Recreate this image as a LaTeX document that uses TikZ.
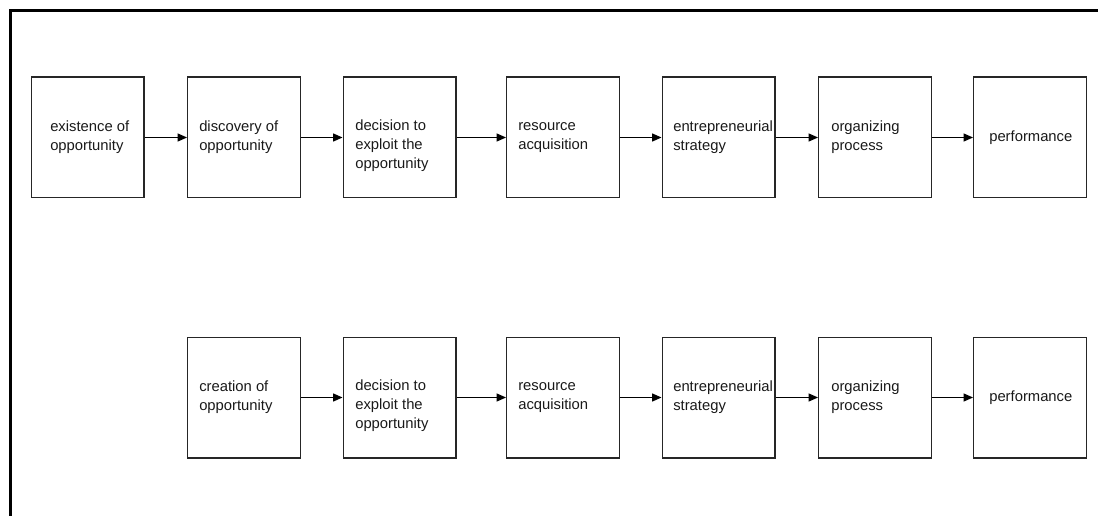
\documentclass[tikz,border=0pt]{standalone}
\usepackage{fontspec}
\setmainfont{Liberation Sans}
\usetikzlibrary{arrows.meta}
\begin{document}
\begin{tikzpicture}[x=0.75pt,y=-0.75pt,
  stepbox/.style={draw=black!85, line width=1pt, minimum width=84.5pt, minimum height=90.5pt, inner sep=0pt},
  lbl/.style={anchor=west, inner sep=0pt, align=left, text=black!90,
    font=\fontsize{11.1pt}{14.25pt}\selectfont},
  flow/.style={-{Triangle[length=7pt,width=6pt]}, line width=0.75pt, black},
  frameline/.style={line width=2.25pt, black}]
\useasboundingbox (0,0) rectangle (1098,516);
\clip (0,0) rectangle (1098,516);
% outer frame (left and top edges)
\draw[frameline] (10.5,530) -- (10.5,11) -- (1110,11);

% top row
\node[stepbox] (t1) at (87.5,137.5) {};
\node[stepbox] (t2) at (244,137.5) {};
\node[stepbox] (t3) at (399.5,137.5) {};
\node[stepbox] (t4) at (563,137.5) {};
\node[stepbox] (t5) at (718.5,137.5) {};
\node[stepbox] (t6) at (875,137.5) {};
\node[stepbox] (t7) at (1030,137.5) {};

\node[lbl] (lt1) at (50,137.5) {existence of\\opportunity};
\node[lbl] (lt2) at (199,137.5) {discovery of\\opportunity};
\node[lbl] (lt3) at (355,146) {decision to\\exploit the\\opportunity};
\node[lbl] (lt4) at (518,137.5) {resource\\acquisition};
\node[lbl] (lt5) at (673,137.5) {entrepreneurial\\strategy};
\node[lbl] (lt6) at (831,137.5) {organizing\\process};
\node[lbl] (lt7) at (989,137.5) {performance};

\draw[flow] (t1) -- (t2);
\draw[flow] (t2) -- (t3);
\draw[flow] (t3) -- (t4);
\draw[flow] (t4) -- (t5);
\draw[flow] (t5) -- (t6);
\draw[flow] (t6) -- (t7);

% bottom row
\node[stepbox] (b2) at (244,397.5) {};
\node[stepbox] (b3) at (399.5,397.5) {};
\node[stepbox] (b4) at (563,397.5) {};
\node[stepbox] (b5) at (718.5,397.5) {};
\node[stepbox] (b6) at (875,397.5) {};
\node[stepbox] (b7) at (1030,397.5) {};

\node[lbl] (lb2) at (199,397.5) {creation of\\opportunity};
\node[lbl] (lb3) at (355,406) {decision to\\exploit the\\opportunity};
\node[lbl] (lb4) at (518,397.5) {resource\\acquisition};
\node[lbl] (lb5) at (673,397.5) {entrepreneurial\\strategy};
\node[lbl] (lb6) at (831,397.5) {organizing\\process};
\node[lbl] (lb7) at (989,397.5) {performance};

\draw[flow] (b2) -- (b3);
\draw[flow] (b3) -- (b4);
\draw[flow] (b4) -- (b5);
\draw[flow] (b5) -- (b6);
\draw[flow] (b6) -- (b7);
\end{tikzpicture}
\end{document}
